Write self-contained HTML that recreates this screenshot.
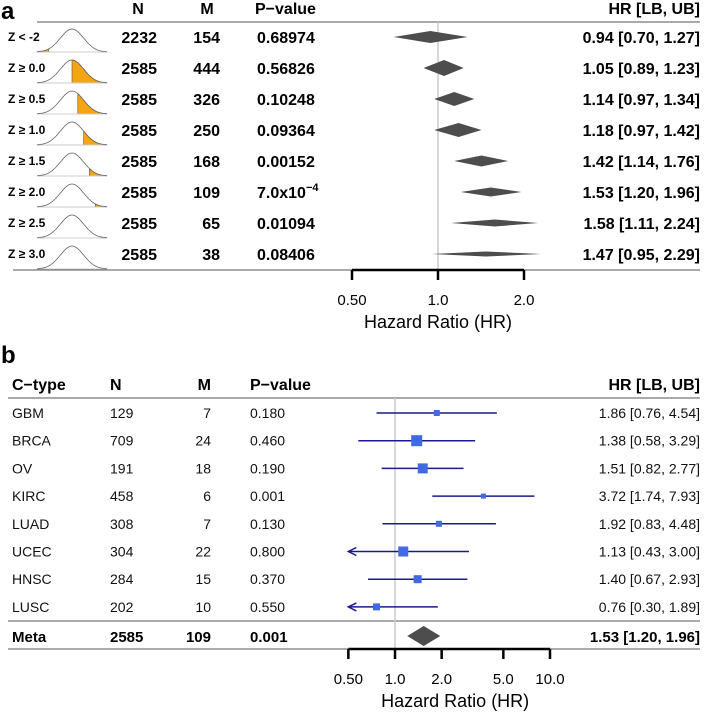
<!DOCTYPE html>
<html><head><meta charset="utf-8"><style>
html,body{margin:0;padding:0;background:#fff;}
svg{display:block;font-family:"Liberation Sans",Arial,sans-serif;}
</style></head><body>
<svg id="chart" width="709" height="713" viewBox="0 0 709 713" xmlns="http://www.w3.org/2000/svg">
<g id="pa"></g>
<g id="pb"></g>
</svg>
<script>
// ---------- Panel a data ----------
const zLabels = ["Z < -2","Z \u2265 0.0","Z \u2265 0.5","Z \u2265 1.0","Z \u2265 1.5","Z \u2265 2.0","Z \u2265 2.5","Z \u2265 3.0"];
const zThresh = [-2,0,0.5,1.0,1.5,2.0,2.5,3.0];
const aN = [2232,2585,2585,2585,2585,2585,2585,2585];
const aM = [154,444,326,250,168,109,65,38];
const aP = ["0.68974","0.56826","0.10248","0.09364","0.00152","EXP","0.01094","0.08406"];
const aHR = [0.94,1.05,1.14,1.18,1.42,1.53,1.58,1.47];
const aLB = [0.70,0.89,0.97,0.97,1.14,1.20,1.11,0.95];
const aUB = [1.27,1.23,1.34,1.42,1.76,1.96,2.24,2.29];
const aHalfH = [6,8,7,7,5.5,4.5,3.5,2.5];
const aTicks = [0.5,1.0,2.0];
const aTickLabels = ["0.50","1.0","2.0"];

// ---------- Panel b data ----------
const bTypes = ["GBM","BRCA","OV","KIRC","LUAD","UCEC","HNSC","LUSC"];
const bN = [129,709,191,458,308,304,284,202];
const bM = [7,24,18,6,7,22,15,10];
const bP = ["0.180","0.460","0.190","0.001","0.130","0.800","0.370","0.550"];
const bHR = [1.86,1.38,1.51,3.72,1.92,1.13,1.40,0.76];
const bLB = [0.76,0.58,0.82,1.74,0.83,0.43,0.67,0.30];
const bUB = [4.54,3.29,2.77,7.93,4.48,3.00,2.93,1.89];
const bBox = [6,11,10,5,6,10,8,7];
const meta = {N:2585,M:109,P:"0.001",HR:1.53,LB:1.20,UB:1.96};
const bTicks = [0.5,1.0,2.0,5.0,10.0];
const bTickLabels = ["0.50","1.0","2.0","5.0","10.0"];

const NS="http://www.w3.org/2000/svg";
function mk(parent,tag,attrs,text){const e=document.createElementNS(NS,tag);for(const k in attrs)e.setAttribute(k,attrs[k]);if(text!==undefined)e.textContent=text;parent.appendChild(e);return e;}

const xA = v => 438 + 86*Math.log2(v);
const yA = i => 37 + i*31;
const xB = v => 395 + 155*Math.log10(v);
const yB = i => 413 + i*27.7;
const fmt2 = v => v.toFixed(2);

// ----- Panel a -----
const pa=document.getElementById('pa');
let t=mk(pa,'text',{x:1,y:19,'font-size':24,'font-weight':'bold'},'a');


const aHdr=[["N",138,"middle"],["M",207,"middle"],["P\u2212value",255,"start"],["HR [LB, UB]",700,"end"]];
aHdr.forEach(h=>{const e=mk(pa,'text',{x:h[1],y:14,'font-size':16,'font-weight':'bold','text-anchor':h[2]},h[0]);

});
let l=mk(pa,'line',{x1:37,x2:700,y1:22,y2:22,stroke:'#555','stroke-width':1});


l=mk(pa,'line',{x1:13,x2:700,y1:270,y2:270,stroke:'#555','stroke-width':1});


l=mk(pa,'line',{x1:xA(1),x2:xA(1),y1:22,y2:270,stroke:'#ccc','stroke-width':1.5});



function gauss(z){return Math.exp(-z*z/2);}
for(let i=0;i<zLabels.length;i++){
  const y=yA(i);
  const g=mk(pa,'g',{});
  
  
  let e=mk(g,'text',{x:8,y:y+4,'font-size':12,'font-weight':'bold'},zLabels[i]);
  
  
  const cx=z=>72+z*11.6, base=y+15, cy=z=>base-23*gauss(z);
  let d="";for(let z=-3;z<=3.0001;z+=0.1){d+=(d?"L":"M")+cx(z).toFixed(1)+","+cy(z).toFixed(1);}
  const th=zThresh[i];
  let sd="";
  if(i===0){sd="M"+cx(-3)+","+base;for(let z=-3;z<=th+0.001;z+=0.05)sd+="L"+cx(z).toFixed(1)+","+cy(z).toFixed(1);sd+="L"+cx(th)+","+base+"Z";}
  else{sd="M"+cx(th)+","+base;for(let z=th;z<=3.0001;z+=0.05)sd+="L"+cx(z).toFixed(1)+","+cy(z).toFixed(1);sd+="L"+cx(3)+","+base+"Z";}
  e=mk(g,'path',{d:sd,fill:'#f5a412',stroke:'#555','stroke-width':0.6});
  
  
  e=mk(g,'line',{x1:cx(-3),x2:cx(3),y1:base,y2:base,stroke:'#ccc','stroke-width':1});
  
  
  e=mk(g,'path',{d:d,fill:'none',stroke:'#666','stroke-width':0.8});
  
  
  e=mk(g,'text',{x:157,y:y+6,'font-size':16,'font-weight':'bold','text-anchor':'end'},aN[i]);
  
  
  e=mk(g,'text',{x:220,y:y+6,'font-size':16,'font-weight':'bold','text-anchor':'end'},aM[i]);
  
  
  if(aP[i]==="EXP"){
    e=mk(g,'text',{x:257,y:y+6,'font-size':16,'font-weight':'bold'});
    mk(e,'tspan',{},'7.0x10');
    mk(e,'tspan',{dy:-7,'font-size':11},'\u22124');
  } else e=mk(g,'text',{x:257,y:y+6,'font-size':16,'font-weight':'bold'},aP[i]);
  
  
  const h=aHalfH[i];
  e=mk(g,'polygon',{points:`${xA(aLB[i])},${y} ${xA(aHR[i])},${y-h} ${xA(aUB[i])},${y} ${xA(aHR[i])},${y+h}`,fill:'#4d4d4d'});
  
  
  e=mk(g,'text',{x:700,y:y+6,'font-size':16,'font-weight':'bold','text-anchor':'end'},`${fmt2(aHR[i])} [${fmt2(aLB[i])}, ${fmt2(aUB[i])}]`);
  
  
}
function axis(parent,xf,ticks,labels,y0,name){
  const g=mk(parent,'g',{});
  
  
  let e=mk(g,'line',{x1:xf(ticks[0]),x2:xf(ticks[ticks.length-1]),y1:y0,y2:y0,stroke:'#000','stroke-width':2.5});
  
  
  ticks.forEach((v,k)=>{
    e=mk(g,'line',{x1:xf(v),x2:xf(v),y1:y0,y2:y0+10,stroke:'#000','stroke-width':2.5});
    
    
    e=mk(g,'text',{x:xf(v),y:y0+35,'font-size':15,'text-anchor':'middle'},labels[k]);
    
    
  });
  e=mk(g,'text',{x:(xf(ticks[0])+xf(ticks[ticks.length-1]))/2+ (name==='panel-b-axis'?6:0),y:y0+58,'font-size':18,'text-anchor':'middle'},'Hazard Ratio (HR)');
  
  
}
axis(pa,xA,aTicks,aTickLabels,270,'panel-a-axis');

// ----- Panel b -----
const pb=document.getElementById('pb');
t=mk(pb,'text',{x:1,y:363,'font-size':24,'font-weight':'bold'},'b');


const bHdr=[["C\u2212type",12,"start"],["N",110,"start"],["M",211,"end"],["P\u2212value",250,"start"],["HR [LB, UB]",700,"end"]];
bHdr.forEach(h=>{const e=mk(pb,'text',{x:h[1],y:390,'font-size':16,'font-weight':'bold','text-anchor':h[2]},h[0]);

});
[[398,'panel-b-header-rule'],[621,'panel-b-meta-rule'],[649,'panel-b-bottom-rule']].forEach(r=>{
  const e=mk(pb,'line',{x1:8,x2:700,y1:r[0],y2:r[0],stroke:'#555','stroke-width':1});
  
  
});
l=mk(pb,'line',{x1:xB(1),x2:xB(1),y1:398,y2:649,stroke:'#ccc','stroke-width':1.5});


const xMin=0.5;
for(let i=0;i<bTypes.length;i++){
  const y=yB(i);
  const g=mk(pb,'g',{});
  
  
  const cells=[[bTypes[i],12,'start','cancer-type'],[bN[i],110,'start','n-value'],[bM[i],211,'end','m-value'],[bP[i],250,'start','p-value'],[`${fmt2(bHR[i])} [${fmt2(bLB[i])}, ${fmt2(bUB[i])}]`,700,'end','hr-ci-text']];
  cells.forEach(c=>{const e=mk(g,'text',{x:c[1],y:y+5,'font-size':14,'text-anchor':c[2],fill:'#111'},c[0]);
    
    });
  const clipped=bLB[i]<xMin;
  const x1=clipped?xB(xMin):xB(bLB[i]);
  let e=mk(g,'line',{x1:x1,x2:xB(bUB[i]),y1:y,y2:y,stroke:'#1a1a8c','stroke-width':1.5});
  
  
  if(clipped){
    e=mk(g,'path',{d:`M${x1+8},${y-4} L${x1},${y} L${x1+8},${y+4}`,fill:'none',stroke:'#1a1a8c','stroke-width':1.5});
    
    
  }
  const s=bBox[i];
  e=mk(g,'rect',{x:xB(bHR[i])-s/2,y:y-s/2,width:s,height:s,fill:'#4169e1'});
  
  
}
{
  const y=636;
  const g=mk(pb,'g',{});
  
  
  const cells=[["Meta",12,'start','meta-label'],[meta.N,110,'start','n-value'],[meta.M,211,'end','m-value'],[meta.P,250,'start','p-value'],[`${fmt2(meta.HR)} [${fmt2(meta.LB)}, ${fmt2(meta.UB)}]`,700,'end','hr-ci-text']];
  cells.forEach(c=>{const e=mk(g,'text',{x:c[1],y:y+6,'font-size':15,'font-weight':'bold','text-anchor':c[2]},c[0]);
    
    });
  const e=mk(g,'polygon',{points:`${xB(meta.LB)},${y} ${xB(meta.HR)},${y-10} ${xB(meta.UB)},${y} ${xB(meta.HR)},${y+10}`,fill:'#4d4d4d'});
  
  
}
axis(pb,xB,bTicks,bTickLabels,649,'panel-b-axis');
</script>
</body></html>
